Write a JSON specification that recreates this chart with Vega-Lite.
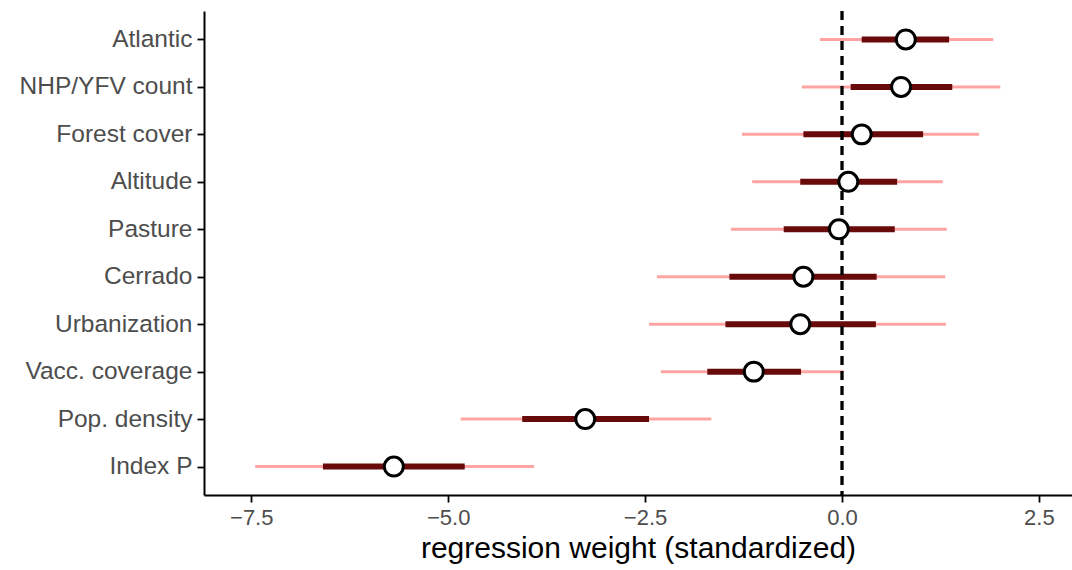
{
  "$schema": "https://vega.github.io/schema/vega-lite/v6.json",
  "autosize": {"type": "none"},
  "width": 868,
  "height": 484,
  "padding": {"left": 204, "top": 11, "right": 0, "bottom": 75},
  "background": "white",
  "config": {
    "view": {"stroke": null},
    "font": "Liberation Sans",
    "axis": {"grid": false, "domainColor": "black", "domainWidth": 2, "tickColor": "black", "tickWidth": 1.8, "tickSize": 7, "labelColor": "#4d4d4d", "labelFont": "Liberation Sans", "titleFont": "Liberation Sans", "titleFontWeight": "normal", "titleColor": "black"}
  },
  "data": {
    "values": [
      {"variable": "Atlantic", "lo95": -0.28, "lo50": 0.25, "est": 0.81, "hi50": 1.36, "hi95": 1.92},
      {"variable": "NHP/YFV count", "lo95": -0.51, "lo50": 0.11, "est": 0.75, "hi50": 1.40, "hi95": 2.01},
      {"variable": "Forest cover", "lo95": -1.27, "lo50": -0.49, "est": 0.25, "hi50": 1.03, "hi95": 1.74},
      {"variable": "Altitude", "lo95": -1.14, "lo50": -0.53, "est": 0.08, "hi50": 0.70, "hi95": 1.28},
      {"variable": "Pasture", "lo95": -1.41, "lo50": -0.74, "est": -0.04, "hi50": 0.67, "hi95": 1.33},
      {"variable": "Cerrado", "lo95": -2.35, "lo50": -1.43, "est": -0.49, "hi50": 0.44, "hi95": 1.31},
      {"variable": "Urbanization", "lo95": -2.45, "lo50": -1.48, "est": -0.53, "hi50": 0.43, "hi95": 1.32},
      {"variable": "Vacc. coverage", "lo95": -2.30, "lo50": -1.71, "est": -1.12, "hi50": -0.52, "hi95": 0.02},
      {"variable": "Pop. density", "lo95": -4.84, "lo50": -4.06, "est": -3.26, "hi50": -2.45, "hi95": -1.66},
      {"variable": "Index P", "lo95": -7.45, "lo50": -6.59, "est": -5.69, "hi50": -4.79, "hi95": -3.91}
    ]
  },
  "encoding": {
    "y": {
      "field": "variable", "type": "nominal", "sort": null,
      "scale": {"type": "point", "padding": 0.6},
      "axis": {"title": null, "labelFontSize": 24.5, "labelPadding": 5}
    }
  },
  "layer": [
    {
      "mark": {"type": "rule", "color": "#ffa3a3", "strokeWidth": 3},
      "encoding": {
        "x": {"field": "lo95", "type": "quantitative",
          "scale": {"domain": [-8.1, 2.92], "nice": false, "zero": false},
          "axis": {"title": "regression weight (standardized)", "values": [-7.5, -5, -2.5, 0, 2.5], "format": ".1f", "labelFontSize": 22, "labelPadding": 5, "titleFontSize": 30, "titlePadding": 5}},
        "x2": {"field": "hi95"}
      }
    },
    {
      "mark": {"type": "rule", "color": "#680a0a", "strokeWidth": 6},
      "encoding": {
        "x": {"field": "lo50", "type": "quantitative"},
        "x2": {"field": "hi50"}
      }
    },
    {
      "mark": {"type": "rule", "color": "black", "strokeWidth": 2.2, "strokeDash": [9, 6]},
      "encoding": {"x": {"datum": 0}, "y": null}
    },
    {
      "mark": {"type": "point", "shape": "circle", "filled": false, "fill": "white", "fillOpacity": 1, "stroke": "black", "strokeWidth": 3, "opacity": 1, "size": 360},
      "encoding": {"x": {"field": "est", "type": "quantitative"}}
    }
  ]
}
